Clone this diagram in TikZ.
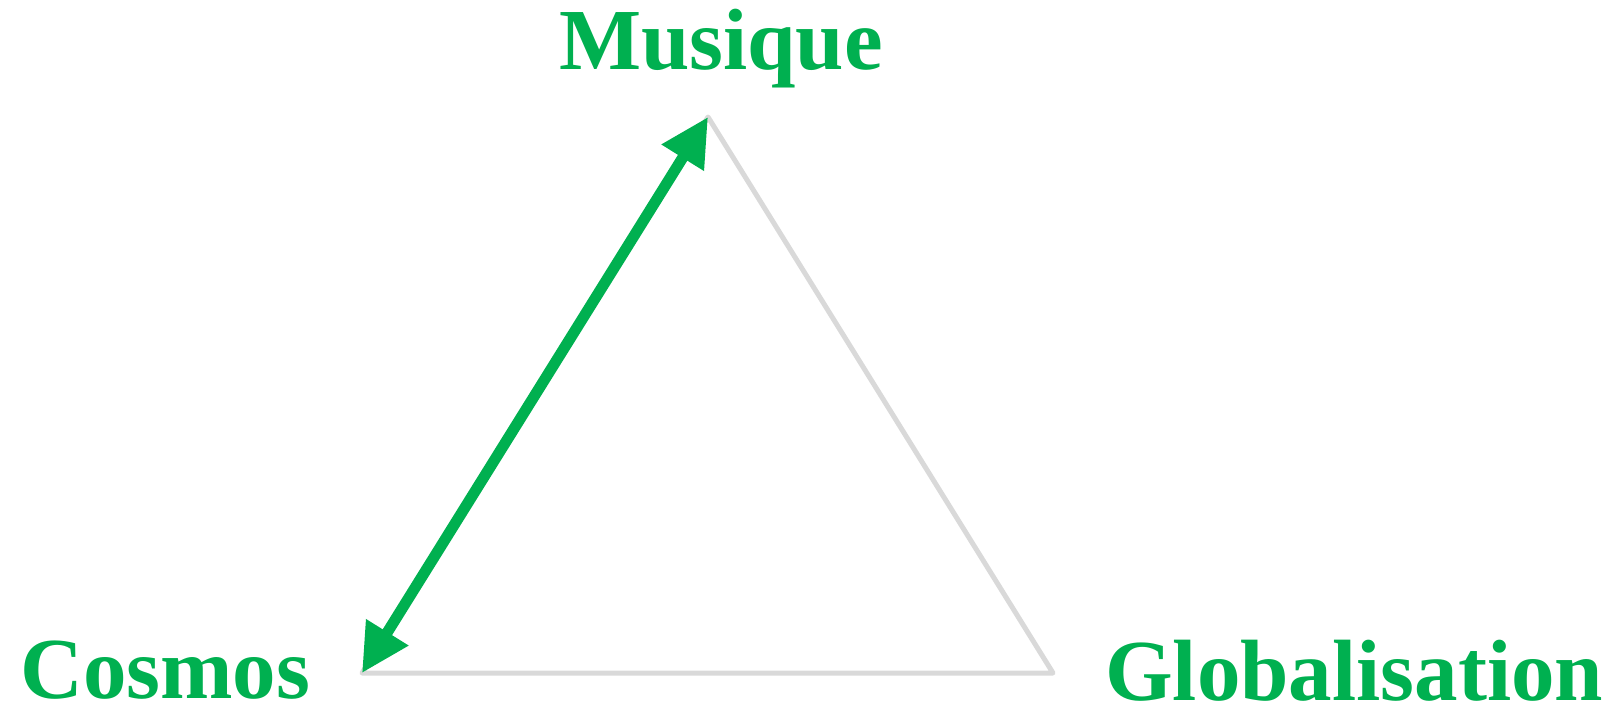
\documentclass[tikz,border=0pt]{standalone}
\usepackage{fontspec}
\setmainfont{Liberation Serif}
\usetikzlibrary{arrows.meta}
\definecolor{lgreen}{HTML}{00B050}
\definecolor{lgray}{HTML}{D9D9D9}
\tikzset{
  lbl/.style={inner sep=0pt, text=lgreen, font=\bfseries\fontsize{87}{100}\selectfont},
  edge/.style={draw=lgray, line width=5pt, line join=round, line cap=round},
  dblarrow/.style={draw=lgreen, line width=11pt,
    {Triangle[length=48pt,width=47pt]}-{Triangle[length=48pt,width=47pt]}}
}
\begin{document}
\begin{tikzpicture}[x=1pt,y=-1pt]
\useasboundingbox (0,0) rectangle (1624,710);
\coordinate (top) at (708,117);
\coordinate (bl) at (362,673);
\coordinate (br) at (1053,673);
\draw[edge] (top) -- (br) -- (bl) -- cycle;
\draw[dblarrow] (bl) -- (top);
\node[lbl, anchor=base] (musique) at (721,69) {Musique};
\node[lbl, text depth=0pt, anchor=base west] (cosmos) at (20,698) {Cosmos};
\node[lbl, text depth=0pt, anchor=base west] (glob) at (1105,700) {Globalisation};
\end{tikzpicture}
\end{document}
